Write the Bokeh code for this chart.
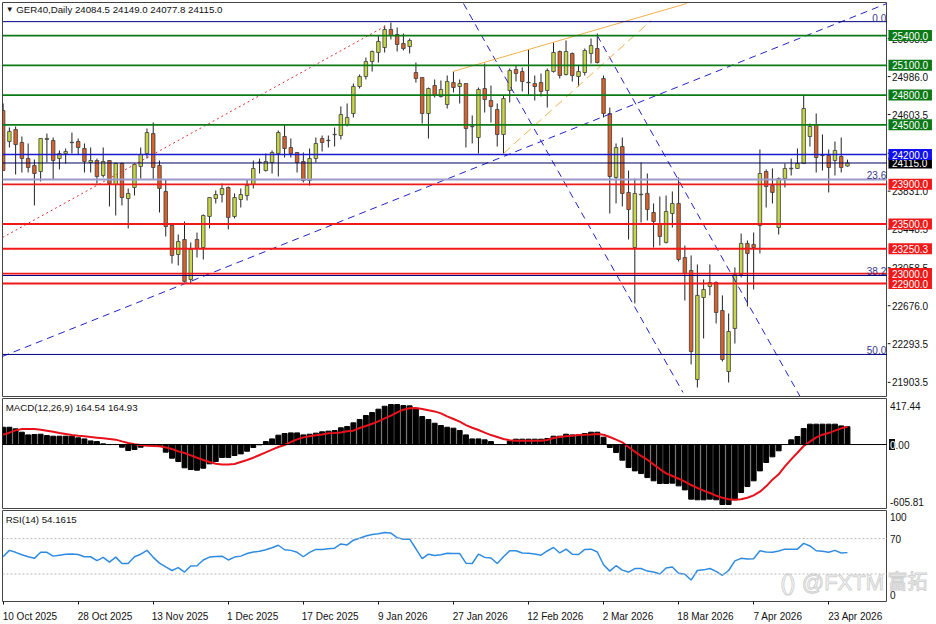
from bokeh.core.properties import value
from bokeh.embed import file_html
from bokeh.layouts import column, row
from bokeh.models import FixedTicker, Label, LinearAxis, Range1d, Span
from bokeh.plotting import figure
from bokeh.resources import INLINE

FONT = "Liberation Sans"

opens = [24644,24332,24453,24322,24160,24090,24029,24352,24342,24160,
    24211,24324,24332,24261,24120,24140,23989,24140,23898,24110,
    23757,23868,24080,24211,24412,24090,23828,23485,23193,23344,
    22941,23344,23263,23576,23757,23797,23868,23576,23747,23787,
    23898,24124,24039,24120,24211,24382,24271,24221,24130,23939,
    24160,24362,24344,24400,24392,24503,24614,24886,24987,25138,
    25229,25279,25461,25410,25320,25289,25027,24977,24614,24896,
    24785,24705,24926,24886,24916,24485,24372,24866,24745,24654,
    24402,24846,25058,25037,24928,24916,24926,24846,25037,25239,
    25007,25219,24987,25027,25219,25269,24967,24614,23969,24281,
    23818,23263,23800,23808,23616,23505,23314,23606,23707,23162,
    23031,21933,22759,22870,22910,22628,22013,22447,22991,23304,
    23294,23485,24029,23888,23465,23959,24056,24060,24110,24382,
    24503,24193,24191,24140,24181,24084.5]
highs = [24715,24473,24483,24382,24312,24150,24362,24412,24372,24241,
    24261,24422,24362,24312,24271,24160,24271,24140,24120,24120,
    23858,24110,24271,24463,24523,24140,23949,23485,23394,23525,
    23314,23414,23596,23767,23838,23908,23878,23808,23858,23949,
    24140,24160,24211,24241,24443,24503,24362,24221,24221,24261,
    24372,24392,24392,24473,24685,24715,24916,25007,25178,25249,
    25400,25501,25531,25481,25420,25370,25128,24977,24876,24957,
    24947,24997,25037,24957,24916,24594,24876,25118,24896,24715,
    24795,25068,25098,25078,25259,24997,25017,25068,25330,25249,
    25350,25229,25098,25269,25370,25420,24997,24674,24312,24372,
    24039,23959,24120,24009,23707,23777,23787,23828,23969,23283,
    23183,23092,22941,23092,22921,22780,22598,23062,23404,23334,
    23414,24251,24050,24060,23969,24110,24160,24261,24805,24513,
    24614,24402,24251,24332,24372,24149]
lows = [24039,24271,23999,24019,24019,23687,23929,24120,23949,24050,
    24110,24211,24201,24019,24019,23908,23969,23677,23586,23687,
    23455,23787,23959,24160,23949,23616,23374,23102,23082,22910,
    22900,23162,23142,23455,23707,23717,23445,23556,23666,23737,
    23858,24009,24029,24009,23979,24170,24170,24019,23919,23888,
    24120,24231,24271,24281,24352,24483,24574,24866,24957,25037,
    25128,25229,25360,25239,25249,25219,24926,24513,24362,24775,
    24775,24664,24826,24715,24271,24312,24211,24624,24523,24281,
    24211,24725,24936,24836,24805,24745,24785,24674,25027,24967,
    24997,24936,24886,24997,25118,25118,24574,23606,23707,23677,
    23344,22699,23515,23535,23263,23283,23304,23465,23122,22729,
    22084,21852,22346,22780,22497,22114,21902,22295,22961,22668,
    22840,23203,23666,23707,23394,23868,23989,24060,24110,24281,
    24019,24039,23818,23989,24019,24077.8]
closes = [24039,24433,24301,24160,24070,24009,24362,24362,24140,24211,
    24231,24320,24271,24130,24140,23979,24130,23908,24110,23767,
    23808,24100,24201,24422,24070,23858,23475,23183,23324,22921,
    23243,23253,23586,23767,23797,23858,23566,23767,23797,23888,
    24060,24118,24130,24221,24422,24261,24211,24120,23939,24160,
    24312,24322,24340,24404,24604,24574,24886,24987,25138,25239,
    25340,25461,25400,25310,25269,25350,24967,24614,24866,24795,
    24856,24936,24876,24916,24463,24481,24856,24755,24685,24402,
    24765,25047,25017,24936,24924,24886,24836,25047,25229,24997,
    25239,24997,25037,25249,25299,25128,24614,23979,24271,23808,
    23646,23808,23795,23646,23525,23374,23626,23707,23142,23001,
    22215,22780,22840,22910,22608,22134,22416,22991,23304,23203,
    23263,24009,23878,23818,23959,24060,24062,24110,24664,24483,
    24170,24189,24070,24241,24070,24115]

macd_hist = [181,181,164,129,101,105,108,94,87,87,
    87,87,70,59,38,31,7,0,0,-28,
    -63,-52,-28,-10,-7,-17,-80,-143,-178,-244,
    -262,-269,-248,-202,-178,-136,-136,-115,-98,-70,
    -31,-3,31,59,98,115,122,122,101,108,
    119,133,140,147,175,188,227,262,304,335,
    370,401,419,419,408,405,373,293,262,223,
    199,181,171,147,101,59,59,49,31,0,
    0,38,56,56,56,56,56,63,87,87,
    108,101,101,115,129,129,77,-31,-84,-164,
    -241,-276,-304,-346,-380,-408,-408,-405,-433,-475,
    -572,-579,-579,-572,-579,-628,-628,-579,-503,-440,
    -380,-276,-188,-129,-66,0,49,84,168,213,
    213,213,213,213,195,186]
macd_signal = [103,124,148,162,162,162,155,145,134,120,
    110,99,92,86,79,72,65,58,51,33,
    16,2,-5,-12,-16,-19,-30,-47,-72,-89,
    -113,-138,-162,-183,-201,-208,-208,-204,-183,-162,
    -138,-110,-82,-54,-26,-5,26,54,75,86,
    96,106,117,120,127,138,145,173,194,218,
    243,274,302,337,365,379,382,372,358,347,
    326,295,267,239,204,176,152,124,99,79,
    58,44,40,40,40,40,40,47,68,79,
    86,92,99,103,106,110,103,79,51,23,
    -26,-75,-120,-159,-208,-257,-302,-330,-358,-389,
    -424,-455,-483,-508,-536,-557,-574,-578,-574,-557,
    -532,-494,-438,-368,-312,-229,-155,-86,-16,30,
    75,103,120,145,169,187]
rsi = [49.5,56.7,54.5,51.7,49.5,47.7,54.5,54.5,50.2,51.3,
    52.4,52.7,52.0,49.5,49.5,45.2,48.8,43.4,49.1,41.9,
    41.9,49.5,52.4,56.7,48.8,42.3,38.0,34.0,37.3,32.2,
    39.1,39.4,45.9,49.1,49.9,50.2,45.9,49.1,50.2,53.1,
    54.9,55.6,57.4,59.6,62.5,57.4,56.7,54.5,49.5,54.5,
    57.8,57.8,58.5,59.2,63.9,62.8,68.2,70.4,72.9,74.7,
    75.4,76.9,76.2,71.1,69.3,69.3,58.5,47.3,52.4,51.0,
    51.7,53.5,53.1,53.1,42.3,41.9,52.4,48.8,48.1,41.9,
    49.5,56.3,56.3,53.8,53.5,52.7,51.3,56.0,60.0,53.8,
    58.1,52.4,52.0,57.8,58.1,54.9,40.5,33.3,39.4,34.4,
    32.2,36.2,36.2,33.3,32.2,30.1,36.9,38.0,30.8,29.7,
    23.2,34.0,34.7,36.2,33.0,28.6,34.0,44.8,47.7,47.0,
    47.3,56.3,54.9,54.5,56.0,58.1,58.1,58.1,64.6,61.7,
    56.3,55.6,54.5,56.7,53.8,54.16]

date_ticks = [0,12,24,36,48,60,72,84,96,108,120,132]
date_labels = ["10 Oct 2025","28 Oct 2025","13 Nov 2025","1 Dec 2025","17 Dec 2025","9 Jan 2026",
    "27 Jan 2026","12 Feb 2026","2 Mar 2026","18 Mar 2026","7 Apr 2026","23 Apr 2026"]
price_ticks = [25368.5,24986.0,24603.5,24213.5,23831.0,23448.5,23058.5,22676.0,22293.5,21903.5]

green_levels = [25400,25100,24800,24500]
red_levels = [23900,23500,23250.3,23000,22900]
fib_levels = [(25540,"0.0","#000080",1),(23949,"23.6","#9a9acb",2),(22981,"38.2","#000080",1),(22185,"50.0","#000080",1)]

# trend lines, (bar, price, bar, price)
dash_lines = [(-0.1,22165,141.3,25723),(73.6,25723,108.7,21802),(95,25400,127.6,21741)]
orange_line = (71.9,25037,109.3,25723)
orange_dash = (80,24211,103.6,25551)
fib_base = (-0.1,23364,61.3,25501)

x_range = Range1d(-0.1,141.4)
strip_range = Range1d(0,49)
bars = list(range(len(opens)))


def make_panel(height, y_range, top, bottom):
    p = figure(width=887, height=height, x_range=x_range, y_range=y_range, x_axis_location=None,
        y_axis_location=None, output_backend="svg", toolbar_location=None,
        min_border_left=2, min_border_right=0, min_border_top=top, min_border_bottom=bottom)
    p.grid.visible = False
    p.outline_line_color = "#444444"
    return p


def make_strip(height, y_range, top, bottom):
    s = figure(width=49, height=height, x_range=strip_range, y_range=y_range, x_axis_location=None,
        y_axis_location=None, output_backend="svg", toolbar_location=None,
        min_border_left=0, min_border_right=0, min_border_top=top, min_border_bottom=bottom)
    s.grid.visible = False
    s.outline_line_color = None
    return s


def note(p, x, y, text, color="#111111", size="9.7px", align="left", baseline="middle"):
    p.add_layout(Label(x=x, y=y, text=text, text_color=color, text_font=FONT, text_font_size=size,
        text_align=align, text_baseline=baseline))


def scale_text(s, x, ys, texts, color="#111111"):
    s.text(x=[x]*len(ys), y=ys, text=texts, text_color=color, text_font=value(FONT),
        text_font_size="10px", text_baseline="middle")


def tag(s, level, color):
    s.rect(x=[22.7], y=[level], width=43.5, height=11, width_units="screen", height_units="screen",
        fill_color=color, line_color=None)
    scale_text(s, 4.5, [level], ["%.1f" % level], color="white")


# main chart
main = make_panel(397, Range1d(21761,25733), 2, 1)
main.segment(bars, lows, bars, highs, color="#222222", line_width=1)
up = [i for i in bars if closes[i] >= opens[i]]
down = [i for i in bars if closes[i] < opens[i]]
main.vbar(up, 0.56, [opens[i] for i in up], [closes[i] for i in up],
    fill_color="#c6d644", line_color="#3c3c3c", line_width=0.8)
main.vbar(down, 0.56, [closes[i] for i in down], [opens[i] for i in down],
    fill_color="#d8622a", line_color="#3c3c3c", line_width=0.8)

main.line([fib_base[0],fib_base[2]], [fib_base[1],fib_base[3]], color="#e03030", line_dash="2 3", line_width=1)
for x0, y0, x1, y1 in dash_lines:
    main.line([x0,x1], [y0,y1], color="#2222c8", line_dash="7 5", line_width=1)
main.line([orange_line[0],orange_line[2]], [orange_line[1],orange_line[3]], color="#f2b14a", line_width=1)
main.line([orange_dash[0],orange_dash[2]], [orange_dash[1],orange_dash[3]], color="#f2b14a", line_dash="9 5", line_width=1)

for level, text, color, width in fib_levels:
    main.add_layout(Span(location=level, dimension="width", line_color=color, line_width=width))
main.add_layout(Span(location=closes[-1], dimension="width", line_color="#000060", line_width=1))
main.add_layout(Span(location=24200, dimension="width", line_color="#1a1ad0", line_width=1.5))
for level in green_levels:
    main.add_layout(Span(location=level, dimension="width", line_color="#0b7a16", line_width=1.8))
for level in red_levels:
    main.add_layout(Span(location=level, dimension="width", line_color="#f01818", line_width=1.8))

for level, text, color, width in fib_levels:
    note(main, 141.2, level, text, color="#3a3a8a", size="10px", align="right", baseline="bottom")
note(main, 0.4, 25662, "\u25bc", size="8px")
note(main, 2.1, 25662, "GER40,Daily  24084.5 24149.0 24077.8 24115.0")

main_strip = make_strip(397, main.y_range, 2, 1)
main_strip.segment([0]*len(price_ticks), price_ticks, [3]*len(price_ticks), price_ticks, color="#111111")
scale_text(main_strip, 4.5, price_ticks, ["%.1f" % t for t in price_ticks])
tag(main_strip, closes[-1], "#000000")
tag(main_strip, 24200, "#1010f0")
for level in green_levels:
    tag(main_strip, level, "#0b7a16")
for level in red_levels:
    tag(main_strip, level, "#f01818")

# MACD
macd = make_panel(112, Range1d(-670,482), 1, 1)
macd.vbar(bars, 0.78, macd_hist, 0, color="black")
macd.add_layout(Span(location=0, dimension="width", line_color="black", line_width=1))
macd.line(bars, macd_signal, color="#e8101a", line_width=2)
note(macd, 0.4, 387, "MACD(12,26,9) 164.54 164.93")

macd_ticks = [405,0,-605.81]
macd_labels = ["417.44","0.00","-605.81"]
macd_strip = make_strip(112, macd.y_range, 1, 1)
scale_text(macd_strip, 2.5, macd_ticks, macd_labels)
macd_strip.rect(x=[4.5], y=[0], width=6, height=11, width_units="screen", height_units="screen",
    fill_color="#111111", line_color=None)
scale_text(macd_strip, 2.5, [0], ["0"], color="white")

# RSI
rsi_p = make_panel(115, Range1d(-1,101.7), 1, 19)
for level in [70,30]:
    rsi_p.add_layout(Span(location=level, dimension="width", line_color="#b8b8b8", line_width=1, line_dash="2 2"))
rsi_p.line(bars, rsi, color="#2f8be0", line_width=1.5)
note(rsi_p, 0.4, 92, "RSI(14) 54.1615")
rsi_p.text(x=[124.3], y=[6], text=["()"], text_color="white", text_outline_color="#d2d2d2",
    text_font=value(FONT), text_font_size="22px", text_baseline="bottom")
rsi_p.text(x=[127.7], y=[6], text=["@FXTM"], text_color="white", text_outline_color="#d2d2d2",
    text_font=value(FONT), text_font_size="22px", text_baseline="bottom")

# labels are centred on their ticks, so each sits half its width past the date's tick
label_ticks = [t + len(d)*0.39 for t, d in zip(date_ticks, date_labels)]
xaxis = LinearAxis(ticker=FixedTicker(ticks=label_ticks, minor_ticks=date_ticks),
    major_label_overrides=dict(zip(label_ticks, date_labels)))
xaxis.axis_line_color = None
xaxis.major_tick_line_color = None
xaxis.minor_tick_line_color = "#111111"
xaxis.minor_tick_in = 0
xaxis.minor_tick_out = 3
xaxis.major_label_standoff = 3
xaxis.major_label_text_font = FONT
xaxis.major_label_text_font_size = "10px"
xaxis.major_label_text_color = "#111111"
rsi_p.add_layout(xaxis, "below")

rsi_ticks = [94,70,6]
rsi_labels = ["100","70","0"]
rsi_strip = make_strip(115, rsi_p.y_range, 1, 19)
scale_text(rsi_strip, 2.5, rsi_ticks, rsi_labels)
rsi_strip.text(x=[0], y=[6], text=["\u5bcc\u62d3"], text_color="white", text_outline_color="#d2d2d2",
    text_font=value("Noto Sans CJK SC"), text_font_size="20px", text_baseline="bottom")

page = column(row(main, main_strip, spacing=0), row(macd, macd_strip, spacing=0),
    row(rsi_p, rsi_strip, spacing=0), spacing=0)

open("out.html", "w").write(file_html(page, INLINE))
